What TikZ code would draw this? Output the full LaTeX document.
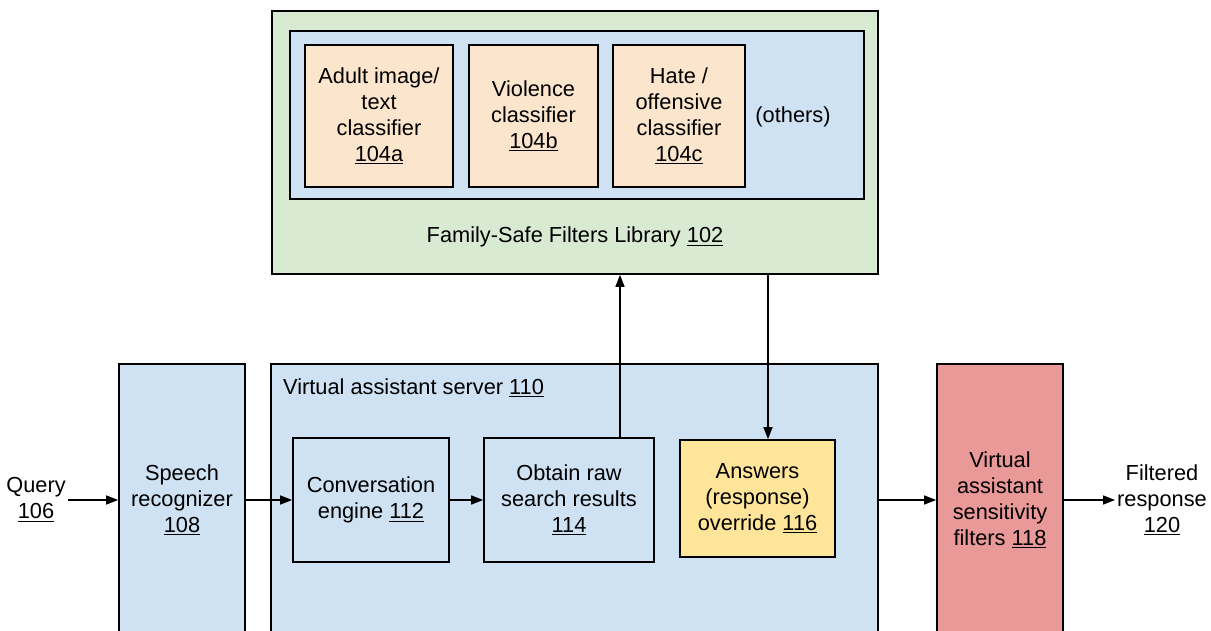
\documentclass[tikz,border=0pt]{standalone}
\usepackage{fontspec}
\setmainfont{Liberation Sans}
\usetikzlibrary{arrows.meta}
\usetikzlibrary{positioning}

\definecolor{libgreen}{HTML}{D9EAD3}
\definecolor{srvblue}{HTML}{CFE2F3}
\definecolor{peach}{HTML}{FCE5CD}
\definecolor{ansyellow}{HTML}{FFE599}
\definecolor{filterred}{HTML}{EA9999}

\newcommand{\refno}[1]{\underline{#1}}

\begin{document}
\begin{tikzpicture}[
  x=0.02cm, y=-0.02cm,
  font=\fontsize{12.4}{14.8}\selectfont,
  box/.style        = {draw, line width=1pt, align=center, inner sep=2pt},
  classifier/.style = {box, fill=peach, minimum height=2.84cm},
  stage/.style      = {box, fill=srvblue, minimum height=2.48cm},
  tall/.style       = {box, minimum width=2.52cm, minimum height=5.44cm},
  arrow/.style      = {-{Triangle[length=2.4mm,width=1.8mm]}, line width=0.8pt}
]
  \clip (0,0) rectangle (1211,631);
  \fill[white] (0,0) rectangle (1211,631);

  % filters library on top
  \node[box, fill=libgreen, minimum width=12.12cm, minimum height=5.26cm] (lib) at (575,142.5) {};
  \node[box, fill=srvblue,  minimum width=11.48cm, minimum height=3.36cm] (libinner) at (577,115) {};
  \node[classifier, minimum width=2.96cm] (adult)    at (379,116)   {Adult image/\\text\\classifier\\\refno{104a}};
  \node[classifier, minimum width=2.58cm] (violence) at (533.5,116) {Violence\\classifier\\\refno{104b}};
  \node[classifier, minimum width=2.64cm] (hate)     at (679,116)   {Hate /\\offensive\\classifier\\\refno{104c}};
  \node (others) at (793,117) {(others)};
  \node (liblabel) at (575,237) {Family-Safe Filters Library \refno{102}};

  % pipeline below
  \node[align=center, inner sep=1pt] (query) at (36,500) {Query\\\refno{106}};
  \node[tall, fill=srvblue] (speech) at (182,500) {Speech\\recognizer\\\refno{108}};
  \node[box, fill=srvblue, minimum width=12.14cm, minimum height=5.44cm] (server) at (574.5,500) {};
  \node[anchor=west] (serverlabel) at (277,388) {Virtual assistant server \refno{110}};
  \node[stage, minimum width=3.12cm] (conv)   at (371,500) {Conversation\\engine \refno{112}};
  \node[stage, minimum width=3.40cm] (obtain) at (569,500) {Obtain raw\\search results\\\refno{114}};
  \node[box, fill=ansyellow, minimum width=3.10cm, minimum height=2.34cm] (answers) at (757.5,498.5) {Answers\\(response)\\override \refno{116}};
  \node[tall, fill=filterred] (sensitivity) at (1000,500) {Virtual\\assistant\\sensitivity\\filters \refno{118}};
  \node[align=center, inner sep=1pt] (filtered) at (1162,500) {Filtered\\response\\\refno{120}};

  \draw[arrow] (query) -- (speech);
  \draw[arrow] (speech) -- (conv);
  \draw[arrow] (conv) -- (obtain);
  \draw[arrow] (server.east |- conv.east) -- (sensitivity);
  \draw[arrow] (sensitivity) -- (filtered);

  % round trip to the library
  \draw[arrow] ([xshift=1.02cm]obtain.north) -- ([xshift=1.02cm]obtain.north |- lib.south);
  \draw[arrow] ([xshift=0.21cm]answers.north |- lib.south) -- ([xshift=0.21cm]answers.north);
\end{tikzpicture}
\end{document}
